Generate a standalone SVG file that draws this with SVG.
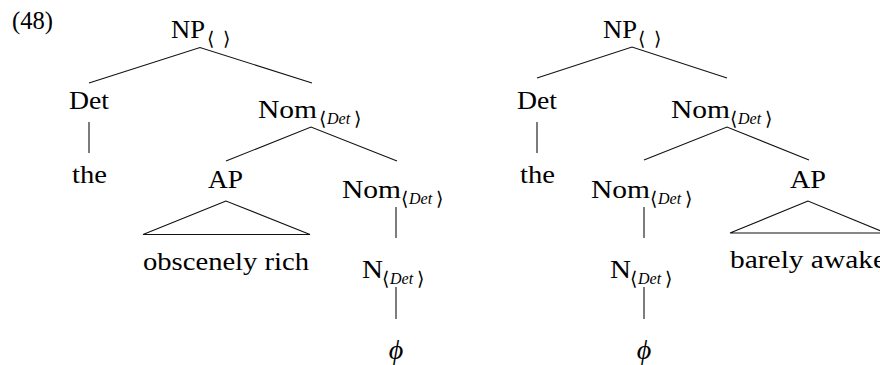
<svg xmlns="http://www.w3.org/2000/svg" width="880" height="365" viewBox="0 0 880 365">
<style>
.t{font-family:"Liberation Serif",serif;font-size:26px;fill:#000}
.s{font-family:"Liberation Serif",serif;font-size:16px;font-style:italic;fill:#000}
.b{font-family:"DejaVu Sans",sans-serif;font-size:19px;fill:#000}
.p{font-family:"Liberation Serif","DejaVu Serif",serif;font-size:28px;font-style:italic;fill:#000}
.e{stroke:#111;stroke-width:1.1;fill:none}
</style>
<rect width="880" height="365" fill="#fff"/>
<text class="t" x="12" y="29" textLength="41" lengthAdjust="spacingAndGlyphs">(48)</text>

<g id="L-NP"><text class="t" x="171" y="38" textLength="34" lengthAdjust="spacingAndGlyphs">NP</text><text class="b" x="207" y="45">⟨</text><text class="b" x="223" y="45">⟩</text></g>
<g id="L-Det"><text class="t" x="69" y="109" textLength="40" lengthAdjust="spacingAndGlyphs">Det</text></g>
<g id="L-the"><text class="t" x="72" y="183" textLength="35" lengthAdjust="spacingAndGlyphs">the</text></g>
<g id="L-Nom1"><text class="t" x="258" y="118" textLength="59" lengthAdjust="spacingAndGlyphs">Nom</text><text class="b" x="319" y="125">⟨</text><text class="s" x="327" y="123.5">Det</text><text class="b" x="354" y="125">⟩</text></g>
<g id="L-AP"><text class="t" x="208" y="188" textLength="35" lengthAdjust="spacingAndGlyphs">AP</text></g>
<g id="L-AP-yield"><text class="t" x="143" y="270" textLength="166" lengthAdjust="spacingAndGlyphs">obscenely rich</text></g>
<g id="L-Nom2"><text class="t" x="342" y="198" textLength="59" lengthAdjust="spacingAndGlyphs">Nom</text><text class="b" x="401" y="205">⟨</text><text class="s" x="409" y="203.5">Det</text><text class="b" x="436" y="205">⟩</text></g>
<g id="L-N"><text class="t" x="362" y="278" textLength="21" lengthAdjust="spacingAndGlyphs">N</text><text class="b" x="382" y="285">⟨</text><text class="s" x="390" y="283.5">Det</text><text class="b" x="417" y="285">⟩</text></g>
<g id="L-phi"><text class="p" x="396" y="359" text-anchor="middle">ϕ</text></g>

<g id="R-NP"><text class="t" x="603" y="38" textLength="34" lengthAdjust="spacingAndGlyphs">NP</text><text class="b" x="638" y="45">⟨</text><text class="b" x="654" y="45">⟩</text></g>
<g id="R-Det"><text class="t" x="517" y="109" textLength="40" lengthAdjust="spacingAndGlyphs">Det</text></g>
<g id="R-the"><text class="t" x="520" y="183" textLength="35" lengthAdjust="spacingAndGlyphs">the</text></g>
<g id="R-Nom1"><text class="t" x="671" y="118" textLength="59" lengthAdjust="spacingAndGlyphs">Nom</text><text class="b" x="730" y="125">⟨</text><text class="s" x="738" y="123.5">Det</text><text class="b" x="765" y="125">⟩</text></g>
<g id="R-Nom2"><text class="t" x="591" y="198" textLength="59" lengthAdjust="spacingAndGlyphs">Nom</text><text class="b" x="650" y="205">⟨</text><text class="s" x="658" y="203.5">Det</text><text class="b" x="685" y="205">⟩</text></g>
<g id="R-AP"><text class="t" x="790" y="188" textLength="36" lengthAdjust="spacingAndGlyphs">AP</text></g>
<g id="R-AP-yield"><text class="t" x="730" y="268" textLength="156" lengthAdjust="spacingAndGlyphs">barely awake</text></g>
<g id="R-N"><text class="t" x="610" y="278" textLength="21" lengthAdjust="spacingAndGlyphs">N</text><text class="b" x="630" y="285">⟨</text><text class="s" x="638" y="283.5">Det</text><text class="b" x="665" y="285">⟩</text></g>
<g id="R-phi"><text class="p" x="644" y="359" text-anchor="middle">ϕ</text></g>

<g id="connectors" class="e">
<path class="e" d="M89,83 L200,47.5 L312,83"/>
<path class="e" d="M89,122 V153"/>
<path class="e" d="M226,161 L311,127 L397,161"/>
<path class="e" d="M226,201 L143,234.5 L310,234.5 Z"/>
<path class="e" d="M396,207 V238"/>
<path class="e" d="M396,287 V319"/>
<path class="e" d="M537,78 L632,47 L727,78"/>
<path class="e" d="M537,122 V153"/>
<path class="e" d="M644,160 L727,127 L809,160"/>
<path class="e" d="M808,201 L730,233 L886,233 Z"/>
<path class="e" d="M644,207 V238"/>
<path class="e" d="M644,287 V319"/>
</g>
</svg>
